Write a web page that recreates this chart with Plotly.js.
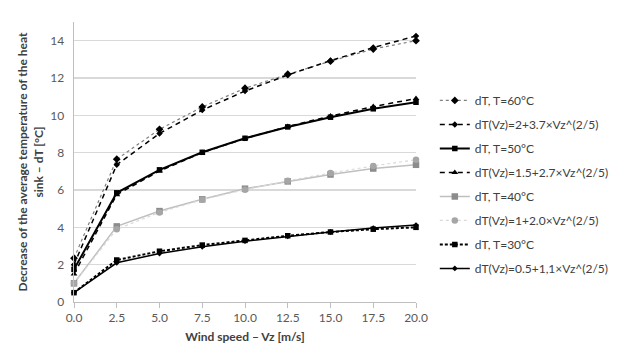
<!DOCTYPE html>
<html>
<head>
<meta charset="utf-8">
<script src="https://cdn.plot.ly/plotly-3.0.1.min.js"></script>
<style>html,body{margin:0;padding:0;background:#fff;}#chart{width:620px;height:357px;}</style>
</head>
<body>
<div id="chart"></div>
<script>
const windSpeed = [0, 2.5, 5, 7.5, 10, 12.5, 15, 17.5, 20];
const seriesNames = [
  "dT, T=60°C",
  "dT(Vz)=2+3.7×Vz^(2/5)",
  "dT, T=50°C",
  "dT(Vz)=1.5+2.7×Vz^(2/5)",
  "dT, T=40°C",
  "dT(Vz)=1+2.0×Vz^(2/5)",
  "dT, T=30°C",
  "dT(Vz)=0.5+1,1×Vz^(2/5)"
];
const dT60  = [2.35, 7.65, 9.25, 10.45, 11.45, 12.2, 12.9, 13.55, 14.0];
const fit60 = [2.0, 7.35, 9.03, 10.28, 11.3, 12.16, 12.93, 13.63, 14.25];
const dT50  = [1.75, 5.85, 7.08, 8.02, 8.77, 9.38, 9.9, 10.35, 10.7];
const fit50 = [1.5, 5.75, 7.02, 8.0, 8.76, 9.4, 9.96, 10.47, 10.9];
const dT40  = [1.0, 4.05, 4.87, 5.5, 6.07, 6.46, 6.83, 7.15, 7.35];
const fit40 = [1.0, 3.9, 4.8, 5.48, 6.02, 6.49, 6.91, 7.29, 7.62];
const dT30  = [0.5, 2.25, 2.72, 3.05, 3.3, 3.55, 3.75, 3.9, 4.0];
const fit30 = [0.5, 2.1, 2.6, 2.96, 3.26, 3.52, 3.75, 3.96, 4.12];
const xTickLabels = ["0.0","2.5","5.0","7.5","10.0","12.5","15.0","17.5","20.0"];
const yTicks = [0, 2, 4, 6, 8, 10, 12, 14];

const values = [dT60, fit60, dT50, fit50, dT40, fit40, dT30, fit30];
const styles = [
  {line:{color:'#7f7f7f', width:1.2, dash:'dot'}, marker:{symbol:'diamond', size:6, color:'#000'}},
  {line:{color:'#000', width:1.5, dash:'5px,4px'}, marker:{symbol:'diamond', size:5, color:'#000'}},
  {line:{color:'#000', width:2}, marker:{symbol:'square', size:5.5, color:'#000'}},
  {line:{color:'#000', width:1.5, dash:'5px,4px'}, marker:{symbol:'triangle-up', size:6, color:'#000'}},
  {line:{color:'#bfbfbf', width:1.5}, marker:{symbol:'square', size:6.5, color:'#8c8c8c'}},
  {line:{color:'#d9d9d9', width:1.2, dash:'dot'}, marker:{symbol:'circle', size:6.5, color:'#a6a6a6'}},
  {line:{color:'#000', width:2, dash:'3px,2px'}, marker:{symbol:'square', size:5.5, color:'#000'}},
  {line:{color:'#000', width:1.5}, marker:{symbol:'diamond', size:4.5, color:'#000'}}
];

const traces = values.map((v, i) => ({
  type: 'scatter', mode: 'lines+markers',
  x: windSpeed, y: v, name: seriesNames[i],
  legendgroup: 'g' + i,
  line: styles[i].line, marker: styles[i].marker,
  cliponaxis: false
}));

const font = 'Lato, "Open Sans", sans-serif';
const layout = {
  width: 620, height: 357,
  margin: {l: 74, r: 204, t: 22, b: 55, autoexpand: false},
  paper_bgcolor: '#fff', plot_bgcolor: '#fff',
  font: {family: font, size: 12, color: '#595959'},
  showlegend: true,
  legend: {x: 1.055, xanchor: 'left', y: 0.42, yanchor: 'middle',
           font: {family: font, size: 12, color: '#404040'},
           tracegroupgap: 5, traceorder: 'grouped', bgcolor: 'rgba(0,0,0,0)'},
  xaxis: {
    range: [0, 20], tickvals: windSpeed, ticktext: xTickLabels,
    showgrid: false, zeroline: false,
    showline: true, linecolor: '#bfbfbf', linewidth: 1,
    ticks: 'outside', ticklen: 5, tickcolor: '#bfbfbf',
    tickfont: {family: font, size: 12, color: '#595959'},
    title: {text: '<b>Wind speed – Vz [m/s]</b>', font: {family: font, size: 12, color: '#404040'}, standoff: 8}
  },
  yaxis: {
    range: [0, 15], tickvals: yTicks,
    showgrid: true, gridcolor: '#d9d9d9', gridwidth: 1.5,
    zeroline: false, showline: true, linecolor: '#bfbfbf', linewidth: 1.5,
    ticks: 'outside', ticklen: 6, tickcolor: 'rgba(0,0,0,0)',
    tickfont: {family: font, size: 12, color: '#595959'},
    title: {text: '<b>Decrease of the average temperature of the heat<br>sink – dT [°C]</b>', font: {family: font, size: 12, color: '#404040'}, standoff: 4}
  }
};

Plotly.newPlot('chart', traces, layout, {displayModeBar: false, staticPlot: true});
</script>
</body>
</html>
